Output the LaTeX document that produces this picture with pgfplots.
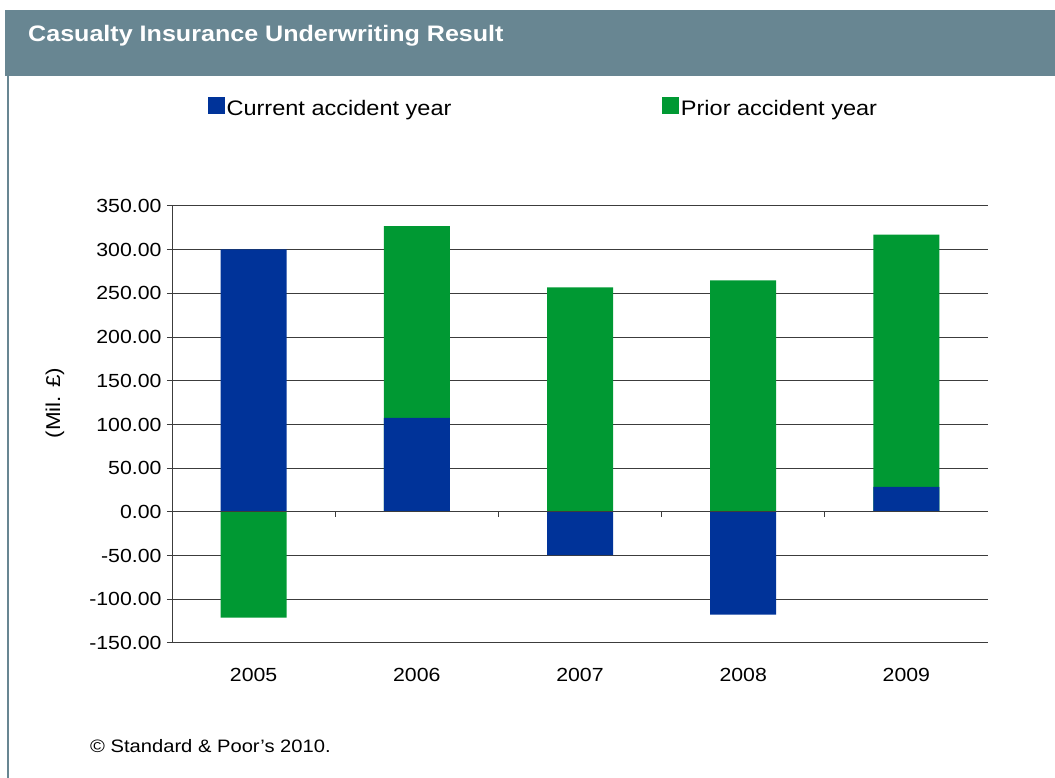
\documentclass[border=0pt]{standalone}
\usepackage{pgfplots}
\pgfplotsset{compat=1.18}
\usepackage{pgfplotstable}
\usepackage{fontspec}
\setmainfont[FakeStretch=1.12]{Liberation Sans}
\definecolor{hdr}{RGB}{104,134,146}
\definecolor{cblue}{RGB}{0,51,153}
\definecolor{cgreen}{RGB}{0,153,51}
\definecolor{gridc}{RGB}{60,60,60}
\pgfplotstableread{
x year cur prior
0 2005 300.5 -121
1 2006 107.5 219.5
2 2007 -49.5 257
3 2008 -117.5 265
4 2009 28.6 288.5
}\datatab
\begin{document}
\begin{tikzpicture}
\path (0pt,0pt) rectangle (1055pt,778pt);
\coordinate (AX) at (172pt,135pt);
\fill[hdr] (5pt,702pt) rectangle (1055pt,768pt);
\fill[hdr] (7pt,0pt) rectangle (9pt,702pt);
\node[anchor=base west, text=white, inner sep=0pt, font=\fontsize{22.4}{26}\selectfont\bfseries] at (28pt,736pt) {Casualty Insurance Underwriting Result};
\node[anchor=base west, inner sep=0pt, font=\fontsize{18}{22}\selectfont] at (90pt,25pt) {\textcopyright\ Standard \& Poor's 2010.};
\begin{axis}[
  at={(AX)}, anchor=south west,
  scale only axis, width=816pt, height=437pt,
  xmin=-0.5, xmax=4.5, ymin=-150, ymax=350,
  xtick={0,1,2,3,4}, xticklabels={2005,2006,2007,2008,2009},
  xtick style={draw=none},
  xticklabel style={font=\fontsize{19}{22}\selectfont, yshift=-17pt},
  ytick={-150,-100,...,350},
  yticklabel style={font=\fontsize{19}{22}\selectfont, xshift=-2pt,
    /pgf/number format/fixed, /pgf/number format/fixed zerofill,
    /pgf/number format/precision=2, /pgf/number format/assume math mode=true},
  tick align=outside, major tick length=5pt,
  ytick style={gridc, line width=1pt},
  axis y line*=left, axis x line*=bottom,
  axis line style={gridc, line width=1pt},
  ymajorgrids, grid style={gridc, line width=1pt},
  ylabel={(Mil. \pounds)},
  ylabel style={at={(axis description cs:-0.1434,0.549)}, anchor=center, font=\fontsize{20}{24}\selectfont},
  legend columns=2,
  legend image code/.code={\fill[#1] (0pt,-5pt) rectangle (16.5pt,11.5pt);},
  legend style={at={(axis description cs:0.044,1.224)}, anchor=west, draw=none, fill=none,
    inner sep=0pt, font=\fontsize{21}{25}\selectfont,
    nodes={inner xsep=2pt, inner ysep=2pt},
    /tikz/every even column/.append style={column sep=209pt}},
]
\addlegendimage{fill=cblue, draw=none}
\addlegendentry{Current accident year}
\addlegendimage{fill=cgreen, draw=none}
\addlegendentry{Prior accident year}
\addplot[ybar, bar width=66pt, bar shift=0pt, fill=cgreen, draw=none, forget plot]
  table[x=x, y expr={(\thisrow{cur}>0)*(\thisrow{prior}>0)*\thisrow{cur}+\thisrow{prior}}] {\datatab};
\addplot[ybar, bar width=66pt, bar shift=0pt, fill=cblue, draw=none, forget plot]
  table[x=x, y=cur] {\datatab};
\end{axis}
\begin{axis}[
  at={(AX)}, anchor=south west,
  scale only axis, width=816pt, height=437pt,
  xmin=-0.5, xmax=4.5, ymin=-150, ymax=350,
  hide y axis, axis x line*=middle,
  axis line style={gridc, line width=1pt},
  xtick={-0.5,0.5,1.5,2.5,3.5,4.5}, xticklabels={},
  tick align=center, major tick length=5pt,
  xtick style={gridc, line width=1pt, yshift=-2.5pt},
]
\addplot[draw=none, forget plot] coordinates {(0,0)};
\end{axis}
\end{tikzpicture}
\end{document}
